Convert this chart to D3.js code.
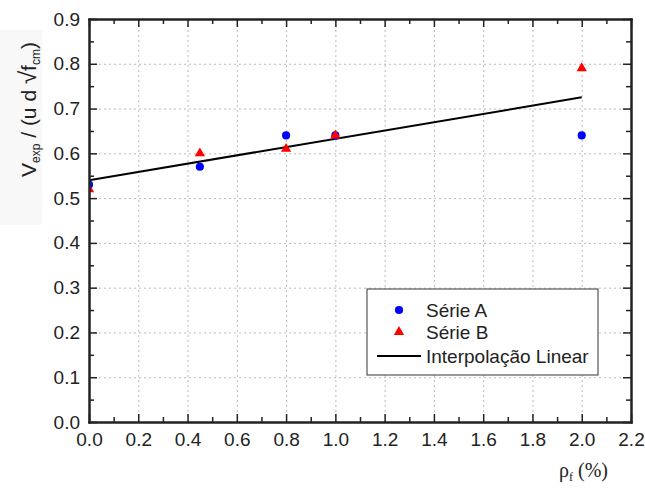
<!DOCTYPE html>
<html>
<head>
<meta charset="utf-8">
<script src="https://cdn.jsdelivr.net/npm/d3@7"></script>
<style>
  body { margin: 0; background: #fff; }
  svg { font-family: Arial, "Liberation Sans", sans-serif; }
  .axis path { stroke: #222; stroke-width: 2; }
  .axis line { stroke: #222; stroke-width: 1.5; }
  .axis text { font-size: 19px; fill: #222; }
  .grid line { stroke: #bbb; stroke-width: 1; stroke-dasharray: 2,3; }
  .grid path { display: none; }
</style>
</head>
<body>
<div id="chart"></div>
<script>
// Série A (blue circles)
var serieAX = [0.0, 0.45, 0.8, 1.0, 2.0];
var serieAY = [0.53, 0.57, 0.64, 0.64, 0.64];
// Série B (red triangles)
var serieBX = [0.0, 0.45, 0.8, 1.0, 2.0];
var serieBY = [0.52, 0.60, 0.61, 0.64, 0.79];
// linear interpolation, endpoints
var fitX = [0.0, 2.0];
var fitY = [0.54, 0.725];

var xTicks = [0.0, 0.2, 0.4, 0.6, 0.8, 1.0, 1.2, 1.4, 1.6, 1.8, 2.0, 2.2];
var yTicks = [0.0, 0.1, 0.2, 0.3, 0.4, 0.5, 0.6, 0.7, 0.8, 0.9];
var xMinor = [0.1, 0.3, 0.5, 0.7, 0.9, 1.1, 1.3, 1.5, 1.7, 1.9, 2.1];
var yMinor = [0.05, 0.15, 0.25, 0.35, 0.45, 0.55, 0.65, 0.75, 0.85];

var legendLabels = ["Série A", "Série B", "Interpolação Linear"];

var width = 645, height = 490;
var pLeft = 89, pRight = 631, pTop = 19, pBottom = 422;

var svg = d3.select("#chart").append("svg")
  .attr("width", width)
  .attr("height", height);

// faint grey patch behind the y title
svg.append("rect")
  .attr("x", 0).attr("y", 30).attr("width", 42).attr("height", 195)
  .attr("fill", "#f8f8f8");

var x = d3.scaleLinear().domain([0, 2.2]).range([pLeft, pRight]);
var y = d3.scaleLinear().domain([0, 0.9]).range([pBottom, pTop]);

/* grid */
svg.append("g")
  .attr("class", "grid")
  .attr("transform", `translate(0, ${pBottom})`)
  .call(d3.axisBottom(x).tickValues(xTicks.slice(1, -1)).tickSize(-(pBottom - pTop)).tickFormat(""));
svg.append("g")
  .attr("class", "grid")
  .attr("transform", `translate(${pLeft}, 0)`)
  .call(d3.axisLeft(y).tickValues(yTicks.slice(1, -1)).tickSize(-(pRight - pLeft)).tickFormat(""));

/* clip for marks */
svg.append("clipPath").attr("id", "plotclip")
  .append("rect")
  .attr("x", pLeft).attr("y", pTop)
  .attr("width", pRight - pLeft).attr("height", pBottom - pTop);

var plot = svg.append("g").attr("clip-path", "url(#plotclip)");

var line = d3.line()
  .x(d => x(d[0]))
  .y(d => y(d[1]));

plot.append("path")
  .attr("d", line(d3.zip(fitX, fitY)))
  .attr("fill", "none")
  .attr("stroke", "#000")
  .attr("stroke-width", 2);

var circle = d3.symbol().type(d3.symbolCircle).size(52);
var tri = d3.symbol().type(d3.symbolTriangle).size(46);

plot.selectAll(".ptA")
  .data(d3.zip(serieAX, serieAY)).enter()
  .append("path")
  .attr("class", "ptA")
  .attr("d", circle)
  .attr("transform", d => `translate(${x(d[0])}, ${y(d[1])})`)
  .attr("fill", "#0000ff");

plot.selectAll(".ptB")
  .data(d3.zip(serieBX, serieBY)).enter()
  .append("path")
  .attr("class", "ptB")
  .attr("d", tri)
  .attr("transform", d => `translate(${x(d[0])}, ${y(d[1])})`)
  .attr("fill", "#ff0000");

/* axes */
var fmt = d3.format(".1f");

svg.append("g")
  .attr("class", "axis")
  .attr("transform", `translate(0, ${pBottom})`)
  .call(d3.axisBottom(x).tickValues(xTicks).tickSizeInner(-8).tickSizeOuter(0).tickPadding(11).tickFormat(fmt));
svg.append("g")
  .attr("class", "axis")
  .attr("transform", `translate(0, ${pBottom})`)
  .call(d3.axisBottom(x).tickValues(xMinor).tickSizeInner(-5).tickSizeOuter(0).tickFormat(""));

svg.append("g")
  .attr("class", "axis")
  .attr("transform", `translate(0, ${pTop})`)
  .call(d3.axisTop(x).tickValues(xTicks).tickSizeInner(-8).tickSizeOuter(0).tickFormat(""));
svg.append("g")
  .attr("class", "axis")
  .attr("transform", `translate(0, ${pTop})`)
  .call(d3.axisTop(x).tickValues(xMinor).tickSizeInner(-5).tickSizeOuter(0).tickFormat(""));

svg.append("g")
  .attr("class", "axis")
  .attr("transform", `translate(${pLeft}, 0)`)
  .call(d3.axisLeft(y).tickValues(yTicks).tickSizeInner(-8).tickSizeOuter(0).tickPadding(9).tickFormat(fmt));
svg.append("g")
  .attr("class", "axis")
  .attr("transform", `translate(${pLeft}, 0)`)
  .call(d3.axisLeft(y).tickValues(yMinor).tickSizeInner(-5).tickSizeOuter(0).tickFormat(""));

svg.append("g")
  .attr("class", "axis")
  .attr("transform", `translate(${pRight}, 0)`)
  .call(d3.axisRight(y).tickValues(yTicks).tickSizeInner(-8).tickSizeOuter(0).tickFormat(""));
svg.append("g")
  .attr("class", "axis")
  .attr("transform", `translate(${pRight}, 0)`)
  .call(d3.axisRight(y).tickValues(yMinor).tickSizeInner(-5).tickSizeOuter(0).tickFormat(""));

svg.selectAll(".axis .domain").attr("stroke-linecap", "square");

/* axis titles */
var yt = svg.append("text")
  .attr("transform", "translate(36, 177) rotate(-90)")
  .attr("font-size", 21)
  .attr("fill", "#222");
yt.append("tspan").text("V");
yt.append("tspan").attr("font-size", 12).attr("dy", 4).text("exp");
yt.append("tspan").attr("dy", -4).text(" / (u d ");
yt.append("tspan").attr("font-size", 24).text("√");
yt.append("tspan").text("f");
yt.append("tspan").attr("font-size", 12).attr("dy", 4).text("cm");
yt.append("tspan").attr("dy", -4).text(")");

var xt = svg.append("text")
  .attr("x", 559).attr("y", 477)
  .attr("font-family", "'Liberation Serif', 'Times New Roman', serif")
  .attr("font-size", 20)
  .attr("fill", "#222");
xt.append("tspan").text("ρ");
xt.append("tspan").attr("font-size", 12).attr("dy", 4).text("f");
xt.append("tspan").attr("dy", -4).text(" (%)");

/* legend */
var lg = svg.append("g");
lg.append("rect")
  .attr("x", 367).attr("y", 289).attr("width", 231).attr("height", 86)
  .attr("fill", "#fff").attr("stroke", "#555").attr("stroke-width", 1.2);

var rows = [310, 332, 356];
lg.append("path").attr("d", circle).attr("transform", `translate(399, ${rows[0]})`).attr("fill", "#0000ff");
lg.append("path").attr("d", tri).attr("transform", `translate(399, ${rows[1]})`).attr("fill", "#ff0000");
lg.append("line").attr("x1", 377).attr("x2", 421).attr("y1", rows[2]).attr("y2", rows[2])
  .attr("stroke", "#000").attr("stroke-width", 1.8);

lg.selectAll(".lt")
  .data(legendLabels).enter()
  .append("text")
  .attr("x", 426)
  .attr("y", (d, i) => rows[i])
  .attr("dy", "0.36em")
  .attr("font-size", 19)
  .attr("fill", "#222")
  .text(d => d);
</script>
</body>
</html>
